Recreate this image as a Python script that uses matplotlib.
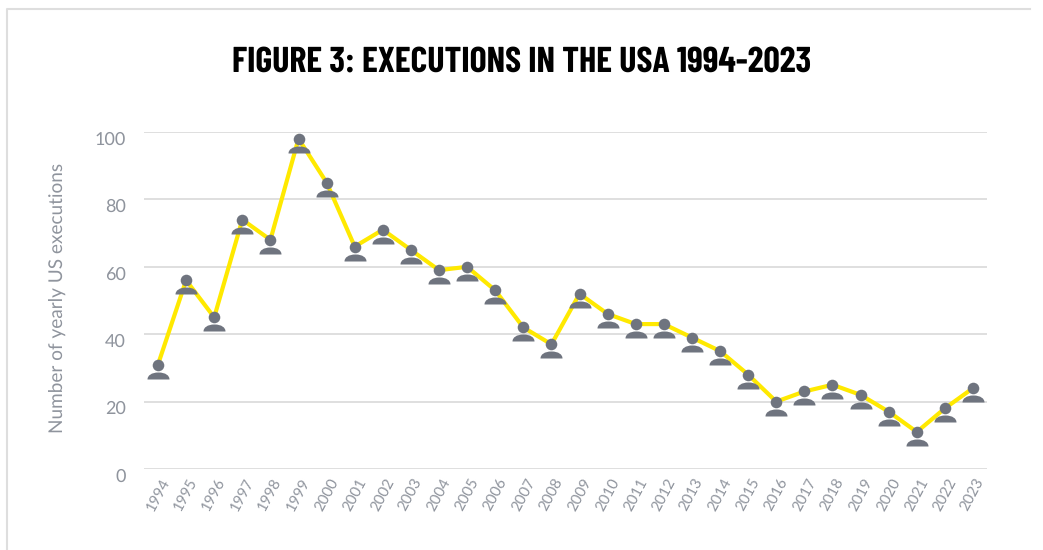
#!/usr/bin/env python3

import matplotlib
matplotlib.use('Agg')
import matplotlib.pyplot as plt
from matplotlib.lines import Line2D
from matplotlib.path import Path
from matplotlib.transforms import Affine2D, ScaledTranslation

years = list(range(1994, 2024))
executions = [31, 56, 45, 74, 68, 98, 85, 66, 71, 65,
              59, 60, 53, 42, 37, 52, 46, 43, 43, 39,
              35, 28, 20, 23, 25, 22, 17, 11, 18, 24]
y_ticks = [0, 20, 40, 60, 80, 100]

W, H = 1043, 550

title_color = '#000000'
text_color = '#8f949d'
grid_color = '#dcdcdc'
line_color = '#ffe900'
person_color = '#6f747f'
light_font = ['Lato', 'DejaVu Sans']
title_font = ['Barlow Condensed', 'Liberation Sans']

plt.rcParams['text.hinting'] = 'no_hinting'
plt.rcParams['text.hinting_factor'] = 1

# person icon, head sits on the data point, units are pixels
head = Path.unit_circle().transformed(Affine2D().scale(5.8))
body = Path([(-11, -14), (-11, -10), (-7, -7), (0, -7),
             (7, -7), (11, -10), (11, -14), (-11, -14)],
            [Path.MOVETO, Path.CURVE4, Path.CURVE4, Path.CURVE4,
             Path.CURVE4, Path.CURVE4, Path.CURVE4, Path.CLOSEPOLY])
person = Path.make_compound_path(head, body)

fig = plt.figure(figsize=(W / 100, H / 100), dpi=100)
ax = fig.add_axes([144 / W, 1 - 469 / H, (987 - 144) / W, (469 - 132) / H])

ax.set_ylim(0, 100)
px_per_year = (973 - 158) / 29
ax.set_xlim(1994 - 14 / px_per_year, 2023 + 14 / px_per_year)

ax.yaxis.grid(True, color=grid_color, lw=1.3)
ax.set_axisbelow(True)
for s in ax.spines.values():
    s.set_visible(False)

ax.plot(years, executions, color=line_color, lw=3.0, solid_joinstyle='miter', zorder=2)
ax.plot(years, executions, ls='none', marker=person, ms=28 * 0.72,
        mfc=person_color, mec='none', zorder=3, clip_on=False)

ax.set_yticks(y_ticks)
ax.set_xticks(years)
ax.set_xticklabels(years, rotation=62, ha='center', va='top')
ax.tick_params(axis='x', length=0, pad=5, labelsize=10.5, labelcolor=text_color)
ax.tick_params(axis='y', length=0, pad=13, labelsize=13, labelcolor=text_color)
for t in ax.get_xticklabels() + ax.get_yticklabels():
    t.set_family(light_font)
    t.set_fontweight(400)
# y labels sit a little under their gridlines
shift = ScaledTranslation(0, -6 / 100, fig.dpi_scale_trans)
for t in ax.get_yticklabels():
    t.set_transform(t.get_transform() + shift)

fig.text(57 / W, 1 - 298 / H, 'Number of yearly US executions', rotation=90,
         ha='center', va='center', fontsize=14, color=text_color,
         family=light_font, fontweight=400)

fig.text(521.5 / W, 1 - 63 / H, 'FIGURE 3: EXECUTIONS IN THE USA 1994-2023',
         ha='center', va='center', fontsize=25.9, color=title_color,
         family=title_font, fontweight='bold')

# light page frame
fig.add_artist(Line2D([7 / W, 7 / W, 1030 / W], [0, 1 - 9 / H, 1 - 9 / H],
                      transform=fig.transFigure, color='#dedede', lw=1.5))

fig.savefig('out.png', dpi=100)
